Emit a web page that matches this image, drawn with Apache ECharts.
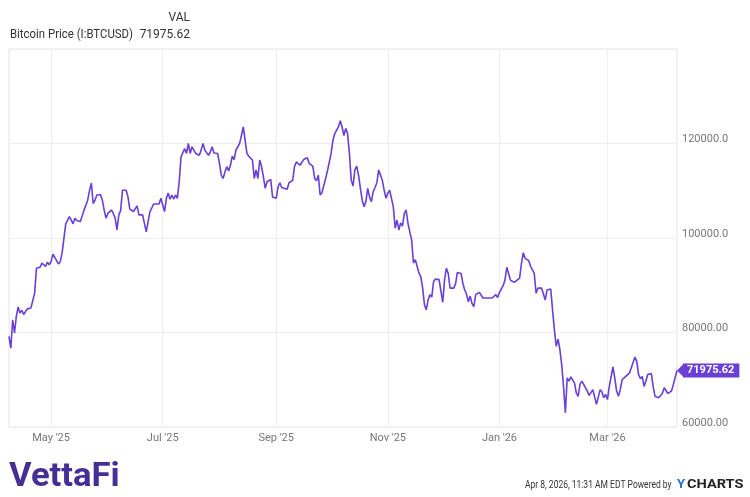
<!DOCTYPE html>
<html>
<head>
<meta charset="utf-8">
<script src="https://cdn.jsdelivr.net/npm/echarts@6/dist/echarts.min.js"></script>
<style>
html, body { margin: 0; padding: 0; background: #fff; }
#chartmain { width: 750px; height: 497px; }
</style>
</head>
<body>
<div id="chartmain"></div>
<script>
// day offsets from 2025-04-08 and BTC close
var startDate = [2025, 3, 8];
var days = [0, 1, 2, 3, 4, 5, 6, 7, 8, 10, 11, 12, 13, 14, 15, 17, 18, 20, 21, 22, 23, 24, 25, 27, 28, 29, 30,
	31, 32, 33, 34, 35, 36, 37, 39, 40, 41, 42, 43, 44, 45, 46, 47, 48, 50, 51, 52, 53, 54, 56, 57, 58, 59, 60,
	61, 62, 64, 65, 66, 67, 68, 70, 71, 72, 73, 74, 75, 76, 77, 78, 79, 80, 82, 83, 84, 85, 86, 87, 88, 89, 90,
	91, 92, 93, 94, 95, 96, 97, 98, 99, 100, 101, 102, 104, 105, 106, 107, 108, 109, 110, 111, 112, 114, 115,
	116, 117, 118, 119, 120, 121, 122, 123, 124, 125, 126, 127, 128, 129, 130, 131, 132, 133, 134, 135, 136,
	137, 138, 139, 140, 141, 142, 143, 144, 145, 146, 147, 148, 149, 150, 152, 153, 154, 155, 156, 157, 158,
	159, 160, 161, 162, 163, 164, 165, 166, 167, 168, 169, 170, 171, 172, 173, 174, 175, 176, 177, 178, 179,
	180, 181, 182, 183, 184, 185, 186, 187, 188, 189, 190, 191, 192, 193, 194, 195, 196, 197, 198, 199, 200,
	201, 202, 203, 204, 205, 206, 207, 208, 209, 210, 211, 212, 213, 214, 215, 216, 217, 218, 219, 220, 221,
	222, 223, 224, 225, 226, 227, 228, 229, 230, 231, 232, 233, 235, 236, 237, 238, 239, 240, 241, 243, 244,
	245, 246, 247, 248, 249, 250, 251, 252, 253, 254, 255, 257, 258, 259, 261, 262, 264, 265, 266, 267, 268,
	270, 271, 272, 273, 274, 276, 277, 279, 280, 281, 282, 284, 285, 287, 288, 289, 291, 292, 293, 294, 295,
	296, 297, 298, 299, 300, 301, 302, 303, 304, 305, 306, 307, 308, 309, 310, 311, 312, 313, 314, 315, 316,
	317, 318, 319, 320, 321, 322, 323, 324, 325, 326, 327, 328, 329, 330, 331, 332, 333, 334, 335, 337, 338,
	339, 340, 342, 343, 344, 345, 346, 347, 348, 349, 350, 351, 352, 353, 354, 355, 357, 358, 359, 360, 361,
	362, 363, 364, 365];
var prices = [79200, 76700, 82700, 79900, 83400, 85400, 84100, 84700, 83800, 85000, 84700, 85200, 85200, 88300,
	93600, 93800, 94700, 94000, 94900, 94300, 95000, 96600, 96800, 94500, 95000, 96800, 97000,
	103000, 103100, 104500, 103800, 103000, 104200, 103700, 103500, 103300, 105900, 105800, 108000, 110100,
	111600, 107300, 108000, 109100, 109200, 108000, 105900, 104200, 105200, 105900, 105200, 104200, 101700,
	104900, 105800, 110100, 110100, 108700, 106100, 105900, 105600, 106800, 104900, 104900, 104900, 103100,
	101300, 101000, 105600, 106300, 107200, 107000, 107200, 108400, 107000, 105600, 108400, 109500, 108200,
	109100, 108200, 109100, 108400, 111900, 117200, 117500, 118900, 117900, 120000, 117900, 119300, 118600,
	117900, 117500, 118600, 120000, 118600, 118200, 117500, 118200, 119300, 118000, 117900, 115800,
	113300, 112600, 114000, 115100, 114200, 115400, 117300, 116600, 118600, 118900, 120000, 121700, 123500,
	120700, 117900, 117300, 117500, 116500, 112600, 114400, 112600,
	116500, 115100, 113000, 110500, 111900, 111600, 112400, 108700, 108600, 108400, 110800, 111700, 110700,
	110500, 110300, 111700, 111500, 112200, 115100, 116100, 116100,
	115400, 115400, 116600, 116500, 117000, 115800, 115600, 115200, 112600, 112100, 113300, 109100, 109600,
	109800, 112600, 114200, 114200, 117900, 120700, 122100, 122500,
	123500, 124800, 123500, 121700, 123200, 122100, 117900, 112200, 111000, 114400, 115200, 113300, 110500,
	108000, 106600, 107700, 110500, 108700, 107700, 109800, 110700,
	111700, 114400, 114000, 112200, 110100, 108400, 109500, 110100, 110500, 106600, 102100, 103800, 101700,
	103200, 102500, 105200, 105900, 103100, 101300, 99600, 94700,
	95400, 95000, 92600, 91800, 89500, 85900, 84800, 86900, 88000, 87500, 90800, 91300, 91200, 90800, 86400,
	91200, 93600, 92500, 89400, 89400, 90300,
	92700, 92400, 92500, 90400, 89000, 88100, 86500, 87700, 86100, 85500, 88000, 88500, 88500, 87300, 87300,
	86900, 87300, 87000, 88000, 87400, 88500,
	89900, 91100, 93800, 93400, 91100, 90600, 90400, 91500, 94600, 96900, 95700, 95200, 94000, 92500, 88300,
	89400, 89400, 89200, 86900, 89000, 89200,
	89200, 84800, 80600, 77100, 78600, 76400, 73200, 68600, 63000, 70400, 69700, 70600, 70400, 69300, 67200,
	66500, 69000, 69700, 69000, 68800, 67600,
	66700, 67100, 67900, 67800, 64800, 64400, 67900, 67400, 66200, 66900, 65800, 68600, 68500, 72700, 70400,
	67600, 66500, 67900, 70000, 70700, 71100,
	71400, 72500, 74800, 73900, 71100, 70200, 70700, 68600, 69700, 71100, 70900, 71300, 68500, 66500, 66400,
	66200, 67100, 68300, 68100, 67100, 67100,
	67600, 69000, 69000, 71975.62];
var tickMonths = [[2025, 4], [2025, 6], [2025, 8], [2025, 10], [2026, 0], [2026, 2]];
var tickLabels = ["May '25", "Jul '25", "Sep '25", "Nov '25", "Jan '26", "Mar '26"];
var seriesName = 'Bitcoin Price (I:BTCUSD)';
var lastValue = '71975.62';

var DAY = 86400000;
var t0 = Date.UTC(startDate[0], startDate[1], startDate[2]);
var seriesData = [];
for (var i = 0; i < days.length; i++) {
	seriesData.push([t0 + days[i] * DAY, prices[i]]);
}
var tickTimes = [];
for (var i = 0; i < tickMonths.length; i++) {
	tickTimes.push(Date.UTC(tickMonths[i][0], tickMonths[i][1], 1));
}
var lastPoint = seriesData[seriesData.length - 1];
var purple = '#6a3fd5';

var option = {
	animation: false,
	backgroundColor: '#fff',
	textStyle: { fontFamily: 'Roboto' },
	grid: {
		left: 9, right: 73, top: 49, bottom: 70,
		show: true, borderColor: '#e4e4e4', borderWidth: 1
	},
	xAxis: {
		type: 'value',
		min: t0,
		max: t0 + 365 * DAY,
		axisLine: { show: false },
		axisTick: { show: false, customValues: tickTimes },
		splitLine: { show: true, lineStyle: { color: '#efefef', width: 1 } },
		axisLabel: {
			customValues: tickTimes,
			color: '#777',
			fontSize: 11,
			margin: 6,
			formatter: function(v) {
				var idx = tickTimes.indexOf(v);
				return idx >= 0 ? tickLabels[idx] : '';
			}
		}
	},
	yAxis: {
		type: 'value',
		position: 'right',
		min: 60000,
		max: 140000,
		interval: 20000,
		axisLine: { show: false },
		axisTick: { show: false },
		splitLine: { lineStyle: { color: '#efefef', width: 1 } },
		axisLabel: {
			color: '#777',
			fontSize: 11,
			margin: 5,
			verticalAlign: 'bottom',
			lineHeight: 8,
			formatter: function(v) {
				if (v >= 140000) return '';
				return v.toPrecision(7);
			}
		}
	},
	series: [{
		name: seriesName,
		type: 'line',
		data: seriesData,
		showSymbol: false,
		symbol: 'none',
		lineStyle: { color: purple, width: 1.6 },
		endLabel: {
			show: true,
			formatter: lastValue,
			color: '#fff',
			fontWeight: 'bold',
			fontSize: 11,
			backgroundColor: purple,
			padding: [2, 5, 1, 4],
			distance: 6
		},
		markPoint: {
			silent: true,
			symbol: 'path://M0,5 L6,0 L6,10 Z',
			symbolSize: [7, 14],
			symbolOffset: [3.5, 0],
			itemStyle: { color: purple },
			label: { show: false },
			data: [{ coord: lastPoint }]
		}
	}],
	graphic: [
		{ type: 'text', x: 190, y: 12, style: { text: 'VAL', font: '12px Roboto', fill: '#333', align: 'right' } },
		{ type: 'text', x: 10, y: 29, scaleX: 0.95, style: { text: seriesName, font: '12px Roboto', fill: '#333' } },
		{ type: 'text', x: 190, y: 29, style: { text: lastValue, font: '12px Roboto', fill: '#333', align: 'right' } },
		{ type: 'text', x: 9, y: 461, scaleX: 1.05, style: { text: 'VettaFi', font: 'bold 33px Roboto', fill: '#452f94' } },
		{ type: 'text', x: 525, y: 480, scaleX: 0.85, style: { text: 'Apr 8, 2026, 11:31 AM EDT Powered by', font: '10px Roboto', fill: '#333' } },
		{ type: 'text', x: 677, y: 478, style: { text: 'Y', font: 'bold 13px Roboto', fill: '#1f6fd6' } },
		{ type: 'text', x: 687, y: 478, scaleX: 1.12, style: { text: 'CHARTS', font: 'bold 13px Roboto', fill: '#222' } }
	]
};
var myChart = echarts.init(document.getElementById('chartmain'));
myChart.setOption(option);
</script>
</body>
</html>
